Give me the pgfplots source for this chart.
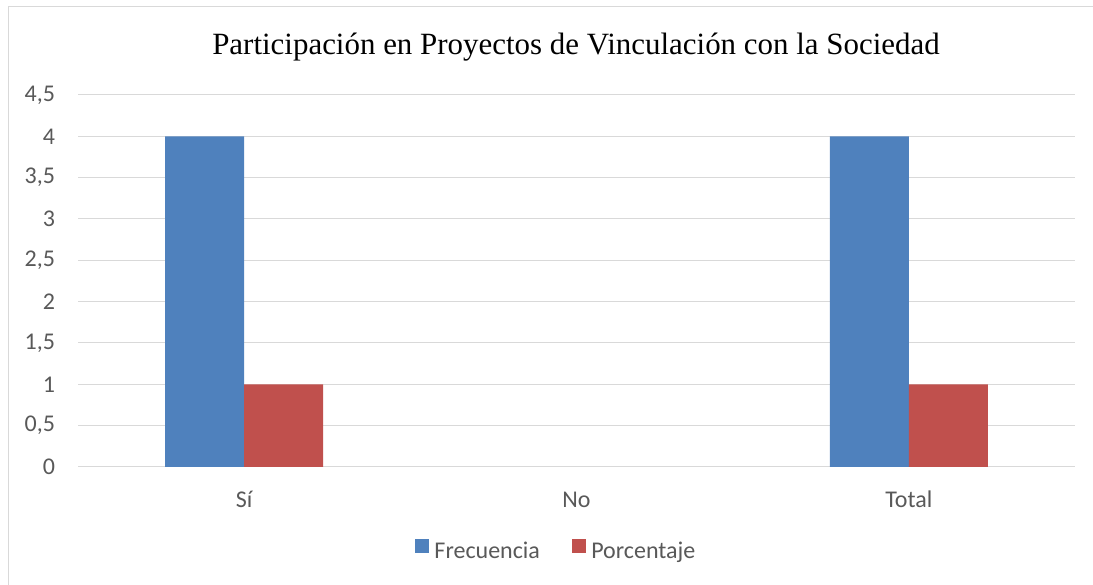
\documentclass[border=0pt]{standalone}
\usepackage{fontspec}
\setmainfont{Carlito}
\newfontfamily\titlefont{Liberation Serif}
\usepackage{pgfplots}
\pgfplotsset{compat=1.18}
\definecolor{barblue}{HTML}{4F81BD}
\definecolor{barred}{HTML}{C0504D}
\definecolor{txtgray}{HTML}{595959}
\definecolor{gridgray}{HTML}{D9D9D9}
\begin{document}
\begin{tikzpicture}[x=0.75pt,y=0.75pt]
\useasboundingbox (0,0) rectangle (1093,585);
\draw[gridgray, line width=0.75pt] (8,0) -- (8,578) -- (1093,578);
\begin{axis}[
    at={(58.5pt,88.5pt)}, anchor=south west,
    scale only axis,
    width=747.75pt, height=279pt,
    xmin=-0.5, xmax=2.5,
    ymin=0, ymax=4.5,
    ytick={0,0.5,...,4.5},
    xtick={0,1,2},
    xticklabels={Sí,No,Total},
    ybar=0pt, bar width=59.25pt,
    ymajorgrids, grid style={gridgray, line width=0.75pt},
    axis line style={draw=none},
    major tick length=0pt,
    tick label style={font=\fontsize{18}{21}\selectfont, text=txtgray},
    yticklabel style={anchor=east, inner sep=0pt, xshift=-17pt},
    xticklabel style={anchor=base, yshift=-30.75pt},
    /pgf/number format/use comma,
    /pgf/number format/assume math mode=true,
    legend style={at={(0.480,-0.226)}, anchor=center, draw=none,
        font=\fontsize{18}{21}\selectfont, text=txtgray,
        legend columns=2},
    /tikz/every even column/.append style={column sep=22pt},
    /tikz/every odd column/.append style={column sep=2pt},
    legend image code/.code={\fill[#1] (0pt,-1.5pt) rectangle (10.5pt,9pt);},
    y filter/.expression={y==0 ? nan : y},
    unbounded coords=discard,
]
\addplot[fill=barblue, draw=none] coordinates {(0,4) (1,0) (2,4)};
\addplot[fill=barred, draw=none] coordinates {(0,1) (1,0) (2,1)};
\legend{Frecuencia, Porcentaje}
\end{axis}
\node[anchor=base, font=\titlefont\fontsize{23.2}{27}\selectfont] at (576,530)
    {Participación en Proyectos de Vinculación con la Sociedad};
\end{tikzpicture}
\end{document}
